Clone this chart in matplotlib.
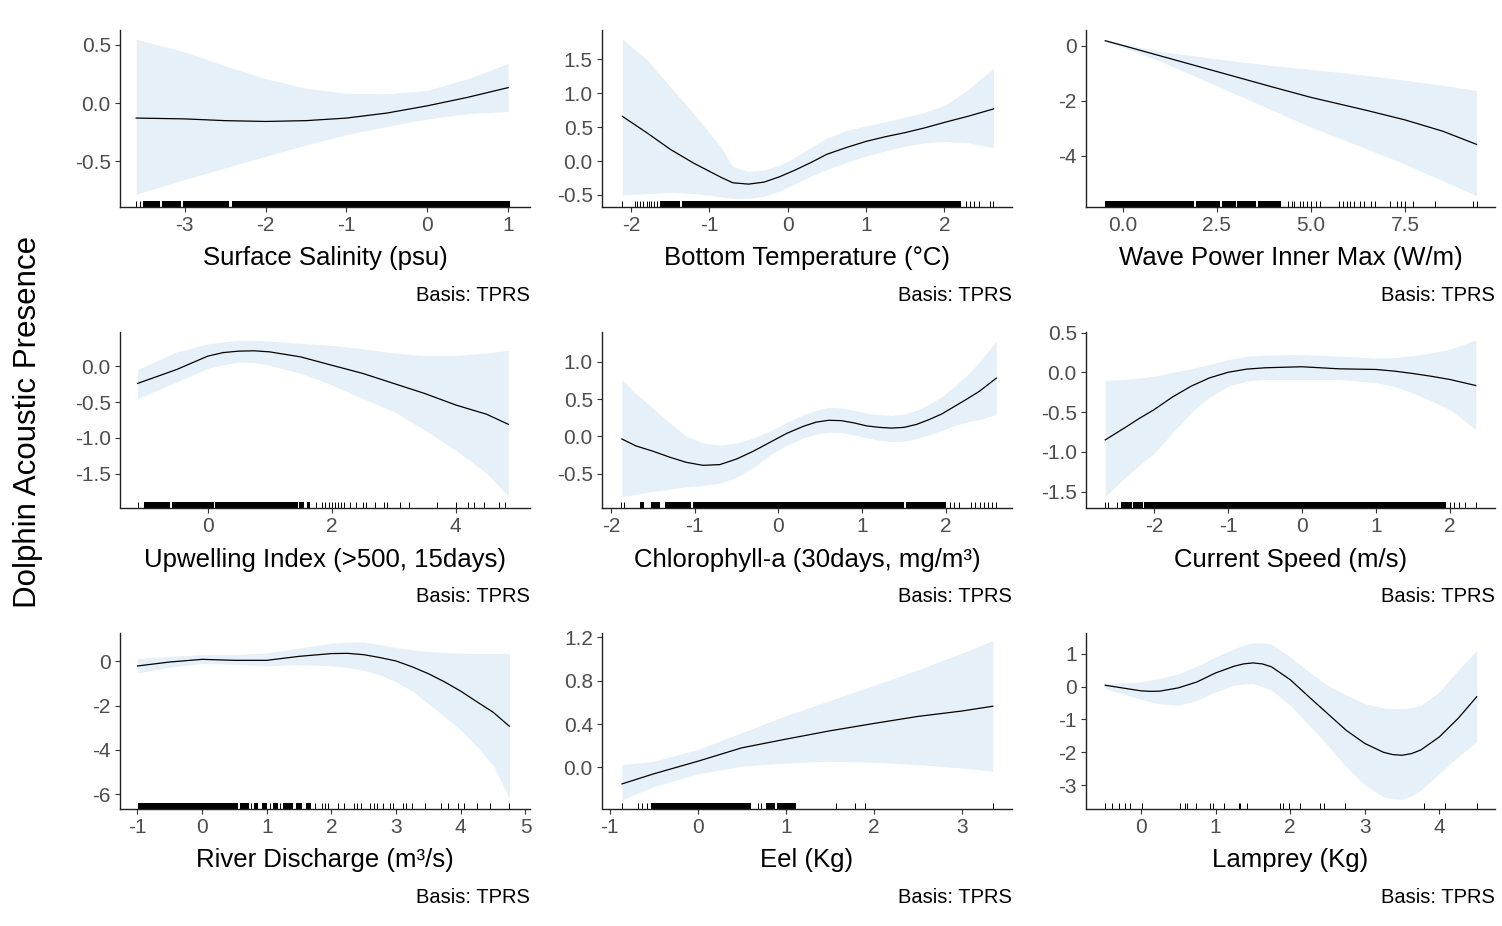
import numpy as np
import matplotlib
matplotlib.use("Agg")
import matplotlib.pyplot as plt

plt.rcParams['font.family'] = ['Liberation Sans', 'DejaVu Sans']

W, H = 1502, 926

# --- Surface salinity
sal_x = [-3.6, -3.0, -2.5, -2.0, -1.5, -1.0, -0.5, 0.0, 0.5, 1.0]
sal_fit = [-0.128, -0.135, -0.15, -0.157, -0.15, -0.128, -0.085, -0.023, 0.05, 0.133]
sal_hi = [0.547, 0.44, 0.32, 0.21, 0.128, 0.085, 0.08, 0.11, 0.21, 0.34]
sal_lo = [-0.78, -0.655, -0.555, -0.456, -0.36, -0.27, -0.2, -0.135, -0.09, -0.072]
sal_rug_ticks = [-3.6, -3.55]
sal_rug_spans = [(-3.52, -3.3), (-3.28, -3.05), (-3.02, -2.45), (-2.42, 1.02)]

# --- Bottom temperature
bt_x = [-2.11, -1.8, -1.5, -1.2, -1.0, -0.85, -0.7, -0.5, -0.3, -0.1, 0.1, 0.3, 0.5,
        0.75, 1.0, 1.25, 1.5, 1.75, 2.0, 2.3, 2.63]
bt_fit = [0.66, 0.42, 0.175, -0.03, -0.15, -0.24, -0.32, -0.34, -0.31, -0.23, -0.13,
          -0.02, 0.1, 0.2, 0.29, 0.36, 0.42, 0.49, 0.57, 0.66, 0.77]
bt_hi = [1.8, 1.5, 1.1, 0.7, 0.42, 0.2, -0.08, -0.15, -0.13, -0.06, 0.06, 0.2, 0.34,
         0.45, 0.52, 0.58, 0.65, 0.72, 0.82, 1.05, 1.37]
bt_lo = [-0.5, -0.48, -0.46, -0.48, -0.5, -0.53, -0.55, -0.55, -0.52, -0.44, -0.33,
         -0.22, -0.125, -0.02, 0.075, 0.15, 0.22, 0.27, 0.29, 0.27, 0.2]
bt_rug_ticks = [-2.11, -1.95, -1.92, -1.88, -1.85, -1.8, -1.77, -1.74, -1.7, -1.67,
                2.28, 2.33, 2.38, 2.45, 2.58, 2.62]
bt_rug_spans = [(-1.63, -1.38), (-1.35, 2.22)]

# --- Wave power inner max
wp_x = [-0.46, 0.0, 1.0, 2.5, 4.0, 5.0, 6.5, 7.5, 8.5, 9.4]
wp_fit = [0.19, 0.02, -0.36, -0.93, -1.5, -1.87, -2.35, -2.69, -3.1, -3.58]
wp_hi = [0.22, 0.07, -0.2, -0.47, -0.72, -0.85, -1.07, -1.25, -1.43, -1.62]
wp_lo = [0.15, -0.05, -0.55, -1.45, -2.35, -2.95, -3.75, -4.3, -4.9, -5.45]
wp_rug_ticks = [4.4, 4.5, 4.55, 4.7, 4.8, 4.9, 5.0, 5.15, 5.25, 5.75, 5.85, 5.95, 6.05,
                6.15, 6.3, 6.4, 6.6, 6.7, 7.1, 7.3, 7.4, 7.5, 7.7, 8.3, 9.3, 9.4]
wp_rug_spans = [(-0.46, 1.9), (1.95, 2.6), (2.65, 3.0), (3.05, 3.55), (3.6, 4.2)]

# --- Upwelling index
up_x = [-1.13, -0.5, 0.0, 0.25, 0.5, 0.75, 1.0, 1.5, 2.0, 2.5, 3.0, 3.5, 4.0, 4.5, 4.85]
up_fit = [-0.24, -0.046, 0.14, 0.19, 0.21, 0.215, 0.2, 0.13, 0.014, -0.1, -0.24, -0.38,
          -0.54, -0.67, -0.81]
up_hi = [-0.046, 0.2, 0.31, 0.34, 0.36, 0.36, 0.35, 0.32, 0.29, 0.245, 0.185, 0.15,
         0.15, 0.185, 0.22]
up_lo = [-0.45, -0.22, -0.03, 0.02, 0.06, 0.05, 0.014, -0.1, -0.26, -0.45, -0.63, -0.89,
         -1.17, -1.49, -1.81]
up_rug_ticks = [-1.13, 1.75, 1.85, 1.9, 1.95, 2.0, 2.05, 2.1, 2.15, 2.2, 2.3, 2.4, 2.5,
                2.55, 2.7, 2.85, 2.9, 3.1, 3.25, 3.7, 4.0, 4.2, 4.3, 4.45, 4.7, 4.8]
up_rug_spans = [(-1.02, -0.6), (-0.57, 0.1), (0.12, 1.45), (1.48, 1.55), (1.6, 1.65)]

# --- Chlorophyll-a
chl_x = [-1.87, -1.7, -1.5, -1.3, -1.1, -0.9, -0.7, -0.5, -0.3, -0.1, 0.1, 0.3, 0.45,
         0.6, 0.75, 0.9, 1.05, 1.2, 1.35, 1.5, 1.65, 1.8, 1.95, 2.1, 2.25, 2.4, 2.6]
chl_fit = [-0.036, -0.13, -0.2, -0.28, -0.35, -0.39, -0.38, -0.305, -0.2, -0.08, 0.04,
           0.135, 0.19, 0.215, 0.21, 0.18, 0.14, 0.12, 0.11, 0.12, 0.16, 0.225, 0.3,
           0.4, 0.5, 0.605, 0.78]
chl_hi = [0.76, 0.57, 0.38, 0.18, 0.0, -0.09, -0.12, -0.09, -0.02, 0.07, 0.19, 0.29,
          0.35, 0.39, 0.38, 0.35, 0.31, 0.29, 0.28, 0.3, 0.35, 0.43, 0.53, 0.67, 0.82,
          1.0, 1.28]
chl_lo = [-0.81, -0.78, -0.74, -0.71, -0.68, -0.66, -0.63, -0.55, -0.42, -0.25, -0.12,
          -0.02, 0.03, 0.054, 0.05, 0.02, -0.02, -0.054, -0.07, -0.067, -0.03, 0.02,
          0.08, 0.144, 0.19, 0.225, 0.29]
chl_rug_ticks = [-1.88, -1.84, -1.45, 2.05, 2.1, 2.15, 2.3, 2.35, 2.4, 2.45, 2.5, 2.55, 2.6]
chl_rug_spans = [(-1.65, -1.6), (-1.52, -1.42), (-1.35, -1.05), (-1.02, 1.5), (1.52, 2.0)]

# --- Current speed
cs_x = [-2.66, -2.4, -2.2, -2.0, -1.75, -1.5, -1.25, -1.0, -0.75, -0.5, 0.0, 0.5,
        1.0, 1.25, 1.5, 1.75, 2.0, 2.35]
cs_fit = [-0.85, -0.7, -0.58, -0.47, -0.31, -0.175, -0.07, 0.0, 0.04, 0.057, 0.07,
          0.044, 0.036, 0.015, -0.015, -0.05, -0.09, -0.166]
cs_hi = [-0.1, -0.09, -0.07, -0.05, 0.0, 0.044, 0.1, 0.16, 0.2, 0.217, 0.225, 0.204,
         0.18, 0.185, 0.21, 0.245, 0.29, 0.406]
cs_lo = [-1.565, -1.33, -1.17, -1.02, -0.76, -0.51, -0.31, -0.175, -0.11, -0.09, -0.09,
         -0.09, -0.13, -0.18, -0.26, -0.36, -0.47, -0.72]
cs_rug_ticks = [-2.66, -2.62, -2.5, 2.0, 2.05, 2.12, 2.2, 2.35]
cs_rug_spans = [(-2.45, -2.3), (-2.28, -2.15), (-2.13, 1.95)]

# --- River discharge
rd_x = [-1.0, -0.5, 0.0, 0.5, 1.0, 1.5, 2.0, 2.25, 2.5, 2.75, 3.0, 3.25, 3.5, 3.75,
        4.0, 4.25, 4.5, 4.75]
rd_fit = [-0.21, -0.03, 0.09, 0.045, 0.045, 0.225, 0.35, 0.36, 0.3, 0.17, 0.015, -0.25,
          -0.56, -0.93, -1.35, -1.83, -2.3, -2.93]
rd_hi = [0.12, 0.225, 0.3, 0.3, 0.38, 0.6, 0.82, 0.87, 0.87, 0.75, 0.62, 0.52, 0.45,
         0.4, 0.37, 0.35, 0.35, 0.35]
rd_lo = [-0.53, -0.26, -0.1, -0.135, -0.2, -0.15, -0.2, -0.28, -0.41, -0.62, -0.93,
         -1.35, -1.91, -2.5, -3.11, -3.85, -4.69, -6.2]
rd_rug_ticks = [0.75, 1.05, 1.2, 1.75, 1.85, 1.9, 1.95, 2.1, 2.2, 2.35, 2.4, 2.45, 2.6,
                2.65, 2.7, 2.8, 2.9, 2.95, 3.1, 3.15, 3.25, 3.45, 3.7, 3.8, 3.95, 4.05,
                4.25, 4.45, 4.75]
rd_rug_spans = [(-0.99, 0.55), (0.58, 0.72), (0.8, 0.87), (0.93, 1.0), (1.1, 1.18),
                (1.25, 1.4), (1.45, 1.55), (1.6, 1.68)]

# --- Eel
eel_x = [-0.86, -0.5, 0.0, 0.5, 1.0, 1.5, 2.0, 2.5, 3.0, 3.35]
eel_fit = [-0.153, -0.06, 0.056, 0.18, 0.26, 0.337, 0.405, 0.47, 0.52, 0.564]
eel_hi = [0.025, 0.056, 0.165, 0.32, 0.477, 0.617, 0.757, 0.9, 1.054, 1.17]
eel_lo = [-0.3, -0.178, -0.06, 0.01, 0.04, 0.056, 0.047, 0.025, -0.006, -0.037]
eel_rug_ticks = [-0.86, -0.68, -0.63, -0.58, 0.68, 0.72, 1.57, 1.78, 1.9, 3.35]
eel_rug_spans = [(-0.53, 0.6), (0.78, 0.88), (0.9, 1.12)]

# --- Lamprey
lam_x = [-0.48, 0.0, 0.125, 0.25, 0.5, 0.75, 1.0, 1.25, 1.375, 1.5, 1.625, 1.75, 2.0,
         2.25, 2.5, 2.75, 3.0, 3.25, 3.375, 3.5, 3.625, 3.75, 4.0, 4.25, 4.5]
lam_fit = [0.04, -0.13, -0.145, -0.14, -0.04, 0.14, 0.415, 0.62, 0.69, 0.72, 0.69, 0.6,
           0.21, -0.31, -0.82, -1.33, -1.73, -2.0, -2.07, -2.09, -2.04, -1.93, -1.53,
           -0.97, -0.31]
lam_hi = [0.09, 0.14, 0.2, 0.25, 0.39, 0.62, 0.9, 1.15, 1.26, 1.33, 1.33, 1.29, 0.9,
          0.45, 0.04, -0.26, -0.52, -0.65, -0.67, -0.67, -0.64, -0.57, -0.16, 0.5, 1.1]
lam_lo = [-0.06, -0.39, -0.47, -0.52, -0.57, -0.42, -0.16, 0.04, 0.08, 0.09, 0.0,
          -0.11, -0.57, -1.17, -1.78, -2.44, -3.0, -3.35, -3.42, -3.43, -3.33, -3.15,
          -2.64, -2.14, -1.68]
lam_rug_ticks = [-0.48, -0.39, -0.30, -0.22, -0.15, 0.01, 0.52, 0.59, 0.62, 0.74, 0.92,
                 0.97, 1.11, 1.31, 1.33, 1.42, 1.86, 1.91, 1.98, 2.13, 2.40, 2.45, 2.74,
                 3.79, 4.08, 4.51]
lam_rug_spans = []

labels = ["Surface Salinity (psu)", "Bottom Temperature (°C)", "Wave Power Inner Max (W/m)",
          "Upwelling Index (>500, 15days)", "Chlorophyll-a (30days, mg/m³)", "Current Speed (m/s)",
          "River Discharge (m³/s)", "Eel (Kg)", "Lamprey (Kg)"]

xticks = [[-3, -2, -1, 0, 1], [-2, -1, 0, 1, 2], [0.0, 2.5, 5.0, 7.5],
          [0, 2, 4], [-2, -1, 0, 1, 2], [-2, -1, 0, 1, 2],
          [-1, 0, 1, 2, 3, 4, 5], [-1, 0, 1, 2, 3], [0, 1, 2, 3, 4]]
xtick_labels = [["-3", "-2", "-1", "0", "1"], ["-2", "-1", "0", "1", "2"], ["0.0", "2.5", "5.0", "7.5"],
                ["0", "2", "4"], ["-2", "-1", "0", "1", "2"], ["-2", "-1", "0", "1", "2"],
                ["-1", "0", "1", "2", "3", "4", "5"], ["-1", "0", "1", "2", "3"], ["0", "1", "2", "3", "4"]]
yticks = [[-0.5, 0.0, 0.5], [-0.5, 0.0, 0.5, 1.0, 1.5], [-4, -2, 0],
          [-1.5, -1.0, -0.5, 0.0], [-0.5, 0.0, 0.5, 1.0], [-1.5, -1.0, -0.5, 0.0, 0.5],
          [-6, -4, -2, 0], [0.0, 0.4, 0.8, 1.2], [-3, -2, -1, 0, 1]]
ytick_labels = [["-0.5", "0.0", "0.5"], ["-0.5", "0.0", "0.5", "1.0", "1.5"], ["-4", "-2", "0"],
                ["-1.5", "-1.0", "-0.5", "0.0"], ["-0.5", "0.0", "0.5", "1.0"],
                ["-1.5", "-1.0", "-0.5", "0.0", "0.5"], ["-6", "-4", "-2", "0"],
                ["0.0", "0.4", "0.8", "1.2"], ["-3", "-2", "-1", "0", "1"]]
xlims = [(-3.80, 1.27), (-2.37, 2.865), (-0.97, 9.89), (-1.414, 5.2), (-2.107, 2.788),
         (-2.92, 2.61), (-1.27, 5.07), (-1.087, 3.568), (-0.737, 4.745)]
ylims = [(-0.886, 0.627), (-0.67, 1.934), (-5.84, 0.58), (-1.97, 0.477), (-0.956, 1.40),
         (-1.70, 0.507), (-6.65, 1.28), (-0.38, 1.24), (-3.71, 1.63)]

series = [
    (sal_x, sal_fit, sal_lo, sal_hi, sal_rug_ticks, sal_rug_spans),
    (bt_x, bt_fit, bt_lo, bt_hi, bt_rug_ticks, bt_rug_spans),
    (wp_x, wp_fit, wp_lo, wp_hi, wp_rug_ticks, wp_rug_spans),
    (up_x, up_fit, up_lo, up_hi, up_rug_ticks, up_rug_spans),
    (chl_x, chl_fit, chl_lo, chl_hi, chl_rug_ticks, chl_rug_spans),
    (cs_x, cs_fit, cs_lo, cs_hi, cs_rug_ticks, cs_rug_spans),
    (rd_x, rd_fit, rd_lo, rd_hi, rd_rug_ticks, rd_rug_spans),
    (eel_x, eel_fit, eel_lo, eel_hi, eel_rug_ticks, eel_rug_spans),
    (lam_x, lam_fit, lam_lo, lam_hi, lam_rug_ticks, lam_rug_spans),
]

# panel boxes in pixels (left, right) and (top, bottom)
col_px = [(120, 530), (602, 1012), (1086, 1495)]
row_px = [(30, 206.5), (332, 507.5), (633, 808.5)]

fig = plt.figure(figsize=(W / 100, H / 100), dpi=100)

for i, (x, fit, lo, hi, rug_t, rug_s) in enumerate(series):
    r, c = divmod(i, 3)
    l, rr = col_px[c]
    t, b = row_px[r]
    ax = fig.add_axes([l / W, 1 - b / H, (rr - l) / W, (b - t) / H])

    ax.fill_between(x, lo, hi, color='#e6f0f8', lw=0)
    ax.plot(x, fit, color='black', lw=0.9, solid_joinstyle='round')

    xt = ax.get_xaxis_transform()
    ax.vlines(rug_t, 0, 0.032, transform=xt, color='black', lw=0.7)
    for a, bb in rug_s:
        ax.axvspan(a, bb, ymin=0, ymax=0.032, color='black', lw=0)

    ax.set_xlim(*xlims[i])
    ax.set_ylim(*ylims[i])
    ax.set_xticks(xticks[i])
    ax.set_xticklabels(xtick_labels[i])
    ax.set_yticks(yticks[i])
    ax.set_yticklabels(ytick_labels[i])

    for s in ['top', 'right']:
        ax.spines[s].set_visible(False)
    for s in ['left', 'bottom']:
        ax.spines[s].set_linewidth(1.0)
        ax.spines[s].set_color('#222222')
    ax.tick_params(length=3.6, width=0.8, color='#333333', labelcolor='#4d4d4d',
                   labelsize=15, pad=3)
    ax.set_facecolor('white')

    cx = (l + rr) / 2
    fig.text(cx / W, 1 - (b + 52) / H, labels[i], ha='center', va='center',
             fontsize=18.5, color='black')
    fig.text(rr / W, 1 - (b + 89) / H, "Basis: TPRS", ha='right', va='center',
             fontsize=14.5, color='black')

fig.text(28 / W, 1 - 422 / H, "Dolphin Acoustic Presence", rotation=90,
         ha='center', va='center', fontsize=22.5, color='black')

fig.savefig("out.png", dpi=100)
